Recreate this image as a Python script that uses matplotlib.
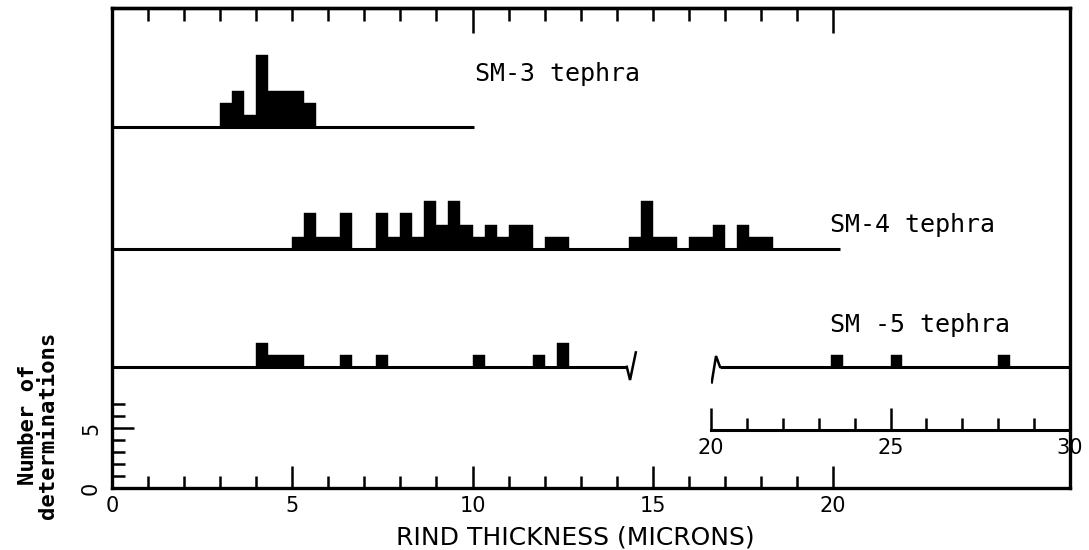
import numpy as np
import matplotlib
matplotlib.use("Agg")
import matplotlib.pyplot as plt
from matplotlib.ticker import FixedLocator, NullFormatter

# ---------------- data (counts per 1/3-micron bin) ----------------
bin_width = 1.0 / 3.0

sm3_start = 3.0
sm3_counts = [2, 3, 1, 6, 3, 3, 3, 2]

sm4_start = 5.0
sm4_counts = [1, 3, 1, 1, 3, 0, 0, 3, 1, 3,
              1, 4, 2, 4, 2, 1, 2, 1, 2, 2,
              0, 1, 1, 0, 0, 0, 0, 0, 1, 4,
              1, 1, 0, 1, 1, 2, 0, 2, 1, 1]

sm5_start = 4.0
sm5_counts = [2, 1, 1, 1, 0, 0, 0, 1, 0, 0,
              1, 0, 0, 0, 0, 0, 0, 0, 1, 0,
              0, 0, 0, 1, 0, 2]

# SM-5 determinations on the broken (20-30 micron) scale
sm5_far_edges = [23.0 + 1/3, 25.0, 28.0]
sm5_far_counts = [1, 1, 1]

labels = ["SM-3 tephra", "SM-4 tephra", "SM -5 tephra"]
main_ticks = [0, 5, 10, 15, 20]
far_ticks = [20, 25, 30]
count_ticks = [0, 5]
xlabel = "RIND THICKNESS (MICRONS)"
ylabel = "Number of\ndeterminations"

# ---------------- layout ----------------
W, H = 1089, 550
fig = plt.figure(figsize=(W / 100, H / 100), dpi=100)
px_l, px_r, px_t, px_b = 112, 1070, 8, 488
ax = fig.add_axes([px_l / W, (H - px_b) / H, (px_r - px_l) / W, (px_b - px_t) / H])
unit = 12.0                     # pixels per determination
ymax = (px_b - px_t) / unit
xmax = (px_r - px_l) / 36.05
ax.set_xlim(0, xmax)
ax.set_ylim(0, ymax)

base3, base4, base5, base_far = 30.1, 19.9, 10.1, 4.85
lw = 2.2

def draw_hist(a, start, counts, base):
    edges = start + bin_width * np.arange(len(counts))
    a.bar(edges, counts, width=bin_width, bottom=base, align="edge",
          color="black", edgecolor="black", linewidth=0.3)

draw_hist(ax, sm3_start, sm3_counts, base3)
draw_hist(ax, sm4_start, sm4_counts, base4)
draw_hist(ax, sm5_start, sm5_counts, base5)

ax.hlines(base3, 0, 10.05, color="black", lw=lw)
ax.hlines(base4, 0, 20.2, color="black", lw=lw)
brk = 14.28
ax.hlines(base5, 0, brk, color="black", lw=lw)
ax.plot([brk, brk + 0.09, brk + 0.25], [base5, base5 - 1.1, base5 + 1.2],
        color="black", lw=1.8, solid_joinstyle="miter")

for s in ax.spines.values():
    s.set_linewidth(2.4)

tick_font = dict(family="DejaVu Sans", size=15)
ax.xaxis.set_major_locator(FixedLocator(main_ticks))
ax.xaxis.set_minor_locator(FixedLocator(range(1, 20)))
ax.set_xticklabels([str(t) for t in main_ticks], **tick_font)
ax.tick_params(axis="x", which="major", direction="in", length=16, width=1.8, pad=6)
ax.tick_params(axis="x", which="minor", direction="in", length=9, width=1.8)

ax.yaxis.set_major_locator(FixedLocator(count_ticks))
ax.yaxis.set_minor_locator(FixedLocator(range(1, 8)))
ax.set_yticklabels([str(t) for t in count_ticks], rotation=90, va="center", **tick_font)
ax.tick_params(axis="y", which="major", direction="in", length=16, width=1.8, pad=8)
ax.tick_params(axis="y", which="minor", direction="in", length=9, width=1.8)

top = ax.secondary_xaxis("top")
top.xaxis.set_major_locator(FixedLocator([10, 20]))
top.xaxis.set_minor_locator(FixedLocator(range(1, 20)))
top.xaxis.set_major_formatter(NullFormatter())
top.tick_params(which="major", direction="in", length=18, width=1.8)
top.tick_params(which="minor", direction="in", length=9, width=1.8)
top.spines["top"].set_linewidth(2.4)

# ---------------- broken-scale part (20-30 microns) ----------------
px_f = 711
ax2 = fig.add_axes([px_f / W, (H - px_b) / H, (px_r - px_f) / W, (px_b - px_t) / H])
ax2.set_xlim(20, 30)
ax2.set_ylim(0, ymax)
ax2.patch.set_alpha(0)
for k in ["top", "right", "left"]:
    ax2.spines[k].set_visible(False)
ax2.spines["bottom"].set_position(("data", base_far))
ax2.spines["bottom"].set_linewidth(2.2)
ax2.yaxis.set_visible(False)
ax2.xaxis.set_major_locator(FixedLocator(far_ticks))
ax2.xaxis.set_minor_locator(FixedLocator(range(21, 30)))
ax2.set_xticklabels([str(t) for t in far_ticks], **tick_font)
ax2.tick_params(axis="x", which="major", direction="in", length=16, width=1.8, pad=6)
ax2.tick_params(axis="x", which="minor", direction="in", length=9, width=1.8)

ax2.bar(sm5_far_edges, sm5_far_counts, width=bin_width, bottom=base5, align="edge",
        color="black", edgecolor="black", linewidth=0.3)
rs = 20.25
ax2.hlines(base5, rs, 30, color="black", lw=lw)
ax2.plot([rs - 0.23, rs - 0.11, rs], [base5 - 1.3, base5 + 0.9, base5],
         color="black", lw=1.8, solid_joinstyle="miter")

# ---------------- labels ----------------
lab_font = dict(family="DejaVu Sans Mono", size=18)
ax.text(10.07, 34.5, labels[0], va="center", ha="left", **lab_font)
ax.text(19.92, 21.9, labels[1], va="center", ha="left", **lab_font)
ax.text(19.92, 13.6, labels[2], va="center", ha="left", **lab_font)

fig.text(575 / W, (H - 537) / H, xlabel, ha="center", va="center",
         family="DejaVu Sans", size=18)
fig.text(38 / W, (H - 425) / H, ylabel, ha="center", va="center", rotation=90,
         multialignment="center", family="DejaVu Sans Mono", weight="bold",
         size=16, linespacing=1.05)

fig.savefig("out.png", dpi=100, facecolor="white")
